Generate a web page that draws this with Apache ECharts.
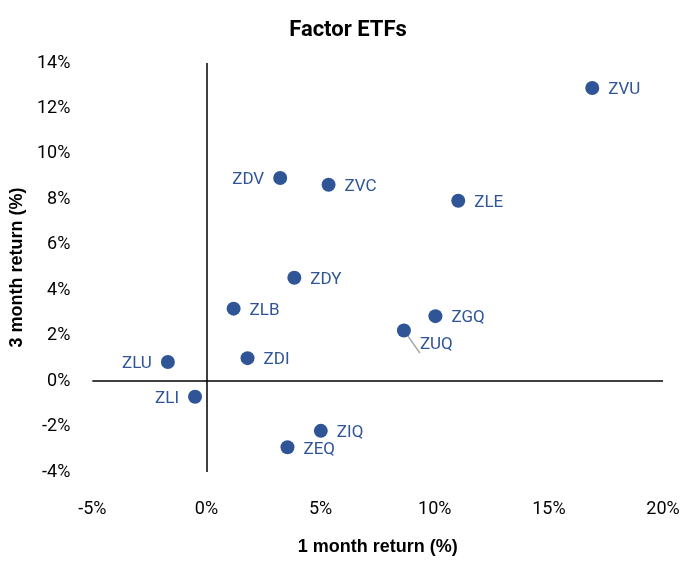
<!DOCTYPE html>
<html>
<head>
<meta charset="utf-8">
<script src="https://cdn.jsdelivr.net/npm/echarts@6/dist/echarts.min.js"></script>
<style>
  html, body { margin: 0; padding: 0; background: #fff; }
  #chart { width: 696px; height: 561px; }
</style>
</head>
<body>
<div id="chart"></div>
<script>
// data
const tickers = ['ZVU', 'ZDV', 'ZVC', 'ZLE', 'ZDY', 'ZLB', 'ZGQ', 'ZUQ', 'ZDI', 'ZLU', 'ZLI', 'ZIQ', 'ZEQ']
const oneMonth = [16.9, 3.23, 5.35, 11.03, 3.85, 1.19, 10.03, 8.65, 1.80, -1.69, -0.50, 5.01, 3.55]
const threeMonth = [12.9, 8.94, 8.64, 7.94, 4.55, 3.19, 2.86, 2.23, 1.01, 0.84, -0.69, -2.19, -2.91]
const leftLabels = ['ZDV', 'ZLU', 'ZLI']

const narrow = 'Roboto, sans-serif'
const blue = '#2f5597'

const chart = echarts.init(document.getElementById('chart'))

const points = tickers.map((t, i) => {
  const p = { name: t, value: [oneMonth[i], threeMonth[i]] }
  if (leftLabels.includes(t)) {
    p.label = { position: 'left' }
  }
  if (t === 'ZUQ') {
    // label sits below-right with a grey leader line
    p.label = { position: 'right', offset: [0, 14] }
    p.labelLine = { show: true, lineStyle: { color: '#a6a6a6', width: 1.5 } }
  }
  if (t === 'ZEQ') {
    p.label = { position: 'right', offset: [0, 3] }
  }
  return p
})

chart.setOption({
  animation: false,
  title: {
    text: 'Factor ETFs',
    left: 'center',
    top: 14,
    textStyle: { fontFamily: narrow, fontWeight: 'bold', fontSize: 22, color: '#000' }
  },
  grid: { left: 91, right: 33, top: 63, bottom: 88 },
  xAxis: {
    type: 'value',
    min: -5,
    max: 20,
    interval: 5,
    name: '1 month return (%)',
    nameLocation: 'middle',
    nameGap: 66,
    nameTextStyle: { fontFamily: '"Liberation Sans", Arial, sans-serif', fontWeight: 'bold', fontSize: 18, color: '#000' },
    axisLine: { show: false },
    axisTick: { show: false },
    splitLine: { show: false },
    axisLabel: {
      margin: 28,
      formatter: '{value}%',
      fontFamily: narrow,
      fontSize: 18,
      color: '#000'
    }
  },
  yAxis: {
    type: 'value',
    min: -4,
    max: 14,
    interval: 2,
    name: '3 month return (%)',
    nameLocation: 'middle',
    nameGap: 58,
    nameTextStyle: { fontFamily: '"Liberation Sans", Arial, sans-serif', fontWeight: 'bold', fontSize: 18, color: '#000' },
    axisLine: { show: false },
    axisTick: { show: false },
    splitLine: { show: false },
    axisLabel: {
      margin: 22,
      formatter: '{value}%',
      fontFamily: narrow,
      fontSize: 18,
      color: '#000'
    }
  },
  series: [
    {
      type: 'scatter',
      symbolSize: 14,
      itemStyle: { color: blue, opacity: 1 },
      data: points,
      label: {
        show: true,
        position: 'right',
        distance: 9,
        offset: [0, 2],
        formatter: '{b}',
        fontFamily: narrow,
        fontSize: 17,
        color: blue
      },
      markLine: {
        silent: true,
        symbol: 'none',
        label: { show: false },
        lineStyle: { color: '#000', width: 1.5, type: 'solid' },
        data: [{ xAxis: 0 }, { yAxis: 0 }]
      }
    }
  ]
})
</script>
</body>
</html>
